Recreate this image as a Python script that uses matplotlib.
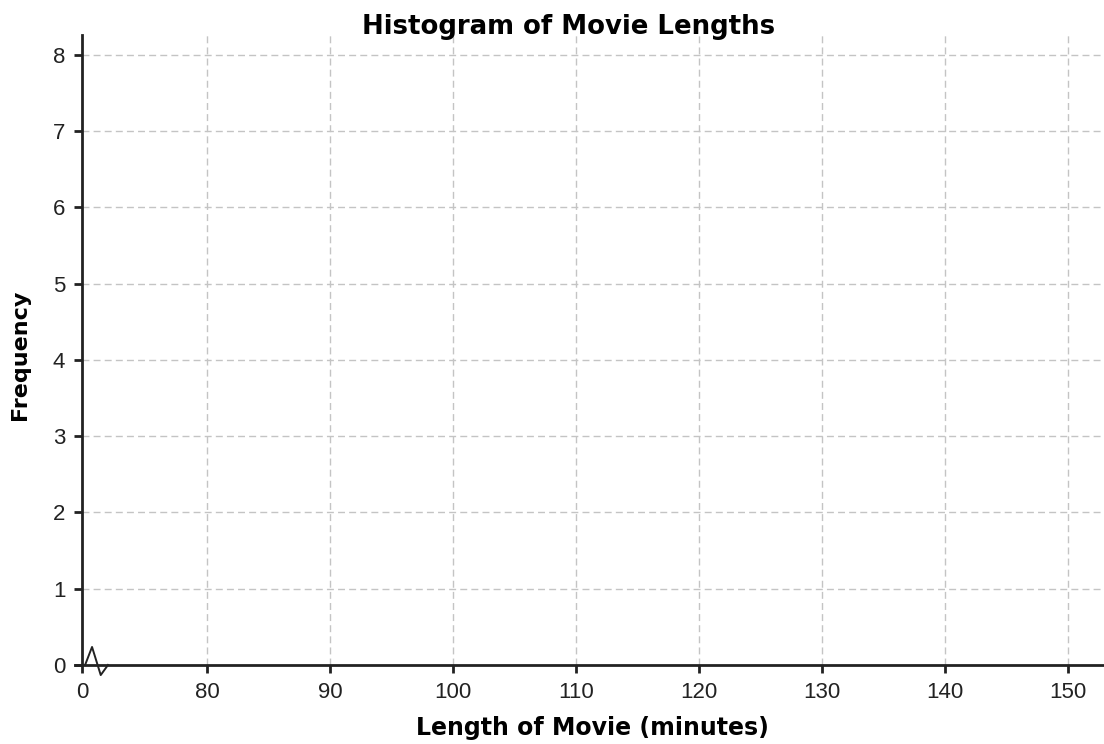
import numpy as np
import matplotlib.pyplot as plt

# empty histogram grid: no bars, only axes with a broken x axis
x_ticks = [80, 90, 100, 110, 120, 130, 140, 150]
y_ticks = [0, 1, 2, 3, 4, 5, 6, 7, 8]
x_break_start = 69.85  # where the "0" sits before the axis break
x_max = 152.9
y_max = 8.26

title = "Histogram of Movie Lengths"
xlabel = "Length of Movie (minutes)"
ylabel = "Frequency"

fig = plt.figure(figsize=(11.04, 7.44), dpi=100)
ax = fig.add_axes([0.0743, 0.1062, 1 - 0.0743, 0.847])

ax.set_xlim(x_break_start, x_max)
ax.set_ylim(0, y_max)

ax.set_xticks([x_break_start] + x_ticks)
ax.set_xticklabels(["0"] + [str(t) for t in x_ticks])
ax.set_yticks(y_ticks)
ax.set_yticklabels([str(t) for t in y_ticks])

for t in x_ticks:
    ax.axvline(t, color="#c4c4c4", lw=1.0, ls=(0, (5, 3)), zorder=0)
for t in y_ticks[1:]:
    ax.axhline(t, color="#c4c4c4", lw=1.0, ls=(0, (5, 3)), zorder=0)

for s in ["top", "right"]:
    ax.spines[s].set_visible(False)
for s in ["left", "bottom"]:
    ax.spines[s].set_linewidth(2)
    ax.spines[s].set_color("#222222")
ax.spines["bottom"].set_bounds(x_break_start - 0.57, x_max)
ax.spines["left"].set_position(("data", x_break_start))

ax.tick_params(axis="both", length=6, width=2, color="#222222",
               labelsize=16, labelcolor="#222222")
ax.tick_params(axis="y", pad=6)
ax.tick_params(axis="x", pad=6)
for lab in ax.get_xticklabels() + ax.get_yticklabels():
    lab.set_family("Liberation Sans")

# zigzag break mark on the x axis
ax.plot([0.003, 0.0098, 0.0183, 0.0254],
        [0.0, 0.0286, -0.016, 0.0],
        transform=ax.transAxes, color="#222222", lw=1.4, clip_on=False)

fig.text(0.515, 0.964, title, ha="center", va="center",
         fontsize=18.7, fontweight="bold", family="DejaVu Sans")
fig.text(0.537, 0.022, xlabel, ha="center", va="center",
         fontsize=17, fontweight="bold", family="DejaVu Sans")
fig.text(0.018, 0.523, ylabel, ha="center", va="center", rotation=90,
         fontsize=16, fontweight="bold", family="DejaVu Sans")

plt.savefig("out.png", dpi=100)
